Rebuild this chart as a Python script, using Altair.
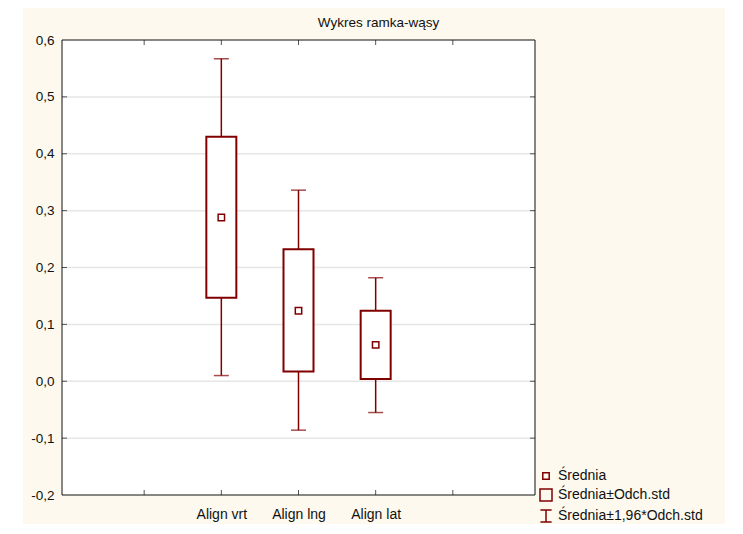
import altair as alt
import pandas as pd

# ---- data ----
categories = ["Align vrt", "Align lng", "Align lat"]
positions = [2, 3, 4]
means = [0.288, 0.124, 0.064]
box_low = [0.147, 0.017, 0.004]
box_high = [0.430, 0.232, 0.124]
whisker_low = [0.010, -0.086, -0.055]
whisker_high = [0.567, 0.336, 0.182]
y_ticks = [-0.2, -0.1, 0.0, 0.1, 0.2, 0.3, 0.4, 0.5, 0.6]
y_inner = [-0.1, 0.0, 0.1, 0.2, 0.3, 0.4, 0.5]
x_ticks = [1, 2, 3, 4, 5]
legend_labels = ["Średnia", "Średnia±Odch.std", "Średnia±1,96*Odch.std"]
legend_paths = [
    "M-0.4,-0.4L0.4,-0.4L0.4,0.4L-0.4,0.4Z",
    "M-0.75,-0.75L0.75,-0.75L0.75,0.75L-0.75,0.75Z",
    "M-0.7,-0.75L0.7,-0.75M0,-0.75L0,0.75M-0.7,0.75L0.7,0.75",
]
title_text = "Wykres ramka-wąsy"

W, H = 473, 455
RED = "#800000"
CREAM = "#fdf9ee"
FONT = "Liberation Sans"

df = pd.DataFrame({
    "cat": categories,
    "pos": positions,
    "mean": means,
    "blo": box_low,
    "bhi": box_high,
    "wlo": whisker_low,
    "whi": whisker_high,
})
df["kind"] = legend_labels[0]

ydf = pd.DataFrame({"v": y_inner})
xdf = pd.DataFrame({"v": x_ticks})
one = alt.Data(values=[{"a": 1}])

xscale = alt.Scale(domain=[0, 6], nice=False, zero=False)
yscale = alt.Scale(domain=[-0.2, 0.6], nice=False, zero=False)

label_expr = " : ".join(
    f"datum.value == {p} ? '{c}'" for p, c in zip(positions, categories)
) + " : ''"

x_axis = alt.Axis(values=x_ticks, labelExpr=label_expr, ticks=False, tickSize=0,
                  domain=False, grid=False, labelPadding=12, labelFontSize=14,
                  labelFont=FONT, labelColor="#111", title=None, zindex=5)
y_axis = alt.Axis(values=y_ticks,
                  labelExpr="(datum.value < -0.00001 ? '-' : '') + replace(format(abs(datum.value), '.1f'), '.', ',')",
                  ticks=False, tickSize=0, domain=False, grid=False, labelPadding=8,
                  labelFontSize=13.5, labelFont=FONT, labelColor="#111", title=None, zindex=5)

cream = alt.Chart(one).mark_rect(color=CREAM).encode(
    x=alt.value(-39), x2=alt.value(663), y=alt.value(-32), y2=alt.value(484))
white = alt.Chart(one).mark_rect(color="white").encode(
    x=alt.value(0), x2=alt.value(W), y=alt.value(0), y2=alt.value(H))
title = alt.Chart(alt.Data(values=[{"t": title_text}])).mark_text(
    font=FONT, fontSize=13.5, color="#111", align="center", baseline="alphabetic").encode(
    text="t:N", x=alt.value(W / 2 + 80), y=alt.value(-13))

grid = alt.Chart(ydf).mark_rule(color="#e6e6e6", strokeWidth=1.5).encode(
    y=alt.Y("v:Q", scale=yscale, axis=y_axis), x=alt.value(0), x2=alt.value(W))
yt_left = alt.Chart(ydf).mark_rule(color="#555", strokeWidth=1).encode(
    y=alt.Y("v:Q", scale=yscale, axis=y_axis), x=alt.value(0), x2=alt.value(5))
yt_right = alt.Chart(ydf).mark_rule(color="#555", strokeWidth=1).encode(
    y=alt.Y("v:Q", scale=yscale, axis=y_axis), x=alt.value(W - 5), x2=alt.value(W))
xt_bottom = alt.Chart(xdf).mark_rule(color="#555", strokeWidth=1).encode(
    x=alt.X("v:Q", scale=xscale, axis=x_axis), y=alt.value(H - 5), y2=alt.value(H))
xt_top = alt.Chart(xdf).mark_rule(color="#555", strokeWidth=1).encode(
    x=alt.X("v:Q", scale=xscale, axis=x_axis), y=alt.value(0), y2=alt.value(5))

base = alt.Chart(df)
X = alt.X("pos:Q", scale=xscale, axis=x_axis)

whiskers = base.mark_rule(color=RED, strokeWidth=1.5).encode(
    x=X, y=alt.Y("wlo:Q", scale=yscale, axis=y_axis), y2="whi:Q")
boxes = base.mark_bar(fill="white", stroke=RED, strokeWidth=2, size=30).encode(
    x=X, y=alt.Y("blo:Q", scale=yscale, axis=y_axis), y2="bhi:Q")
cap_hi = base.mark_tick(orient="horizontal", size=15, thickness=1.5, color=RED).encode(
    x=X, y=alt.Y("whi:Q", scale=yscale, axis=y_axis))
cap_lo = base.mark_tick(orient="horizontal", size=15, thickness=1.5, color=RED).encode(
    x=X, y=alt.Y("wlo:Q", scale=yscale, axis=y_axis))
mean_pts = base.mark_point(filled=False, color=RED, size=256, strokeWidth=1.5, opacity=1).encode(
    x=X, y=alt.Y("mean:Q", scale=yscale, axis=y_axis),
    shape=alt.Shape("kind:N",
                    scale=alt.Scale(domain=legend_labels, range=legend_paths),
                    legend=alt.Legend(orient="none", legendX=475, legendY=427, title=None,
                                      labelFontSize=14, labelFont=FONT, labelColor="#111",
                                      symbolSize=256, symbolStrokeWidth=1.5,
                                      symbolStrokeColor=RED, symbolFillColor="transparent",
                                      rowPadding=3, labelOffset=3, padding=0,
                                      labelLimit=300, symbolOffset=0, zindex=5)))

frame = alt.Chart(one).mark_rect(fill="transparent", stroke="#111", strokeWidth=1).encode(
    x=alt.value(0), x2=alt.value(W), y=alt.value(0), y2=alt.value(H))

chart = alt.layer(
    cream, white, title, grid, yt_left, yt_right, xt_bottom, xt_top,
    whiskers, boxes, cap_hi, cap_lo, mean_pts, frame
).properties(
    width=W, height=H,
    autosize=alt.AutoSizeParams(type="none"),
    padding={"left": 54, "top": 32, "right": 190, "bottom": 29},
    background="white",
).configure_view(strokeWidth=0)

chart.save("out.html", embed_options={"renderer": "svg", "actions": False})
